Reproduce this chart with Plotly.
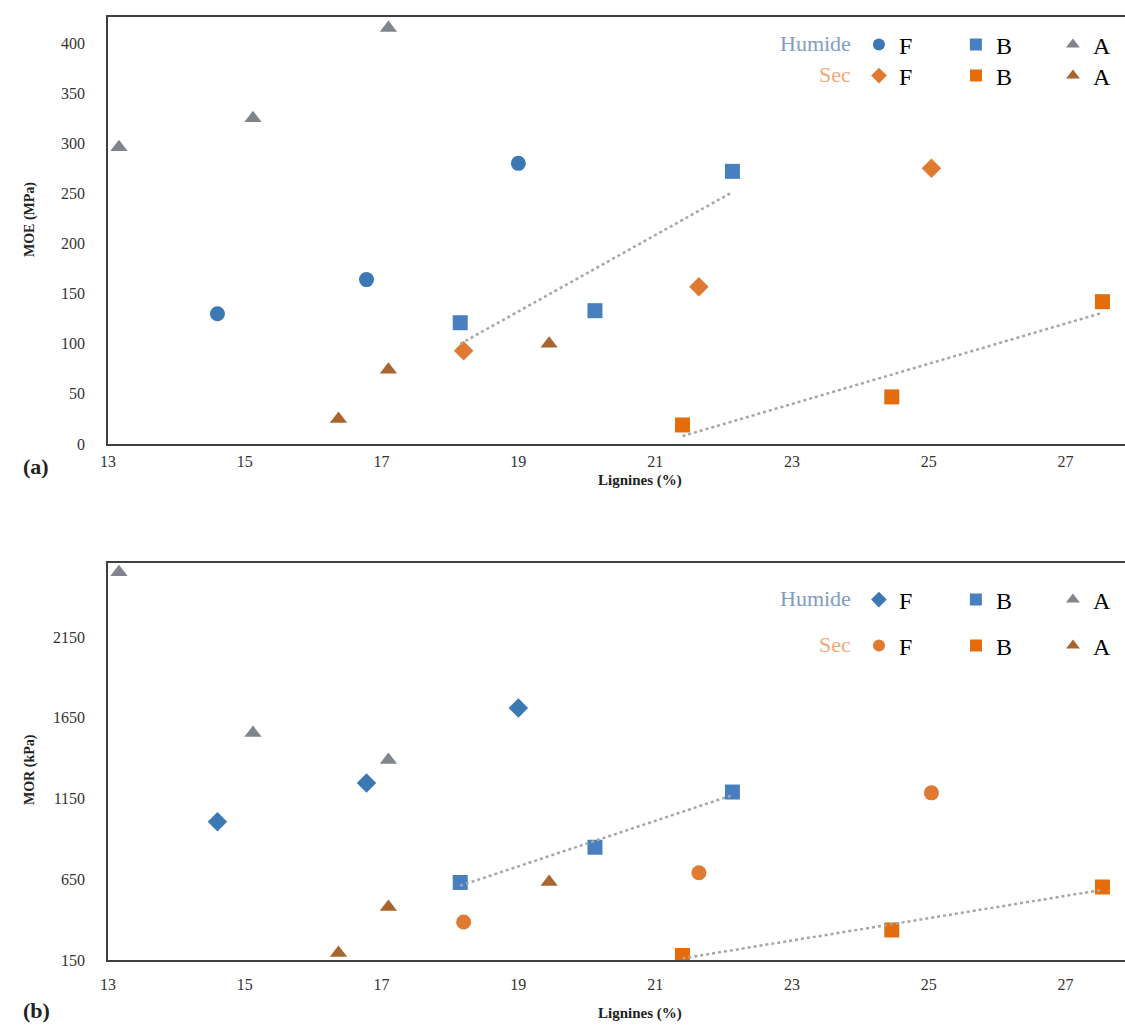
import numpy as np
import plotly.graph_objects as go

# ---- data ----
series = ["Humide F", "Humide B", "Humide A", "Sec F", "Sec B", "Sec A"]
labels = ["F", "B", "A", "F", "B", "A"]

hum_f_x = [14.60, 16.78, 19.00]
hum_b_x = [18.15, 20.12, 22.13]
hum_a_x = [13.16, 15.12, 17.10]
sec_f_x = [18.20, 21.64, 25.04]
sec_b_x = [21.40, 24.46, 27.54]
sec_a_x = [16.37, 17.10, 19.45]

hum_f_moe = [130, 164, 280]
hum_b_moe = [121, 133, 272]
hum_a_moe = [296, 325, 415]
sec_f_moe = [93, 157, 275]
sec_b_moe = [19, 47, 142]
sec_a_moe = [25, 74, 100]

hum_f_mor = [1006, 1246, 1710]
hum_b_mor = [630, 848, 1190]
hum_a_mor = [2550, 1555, 1388]
sec_f_mor = [385, 690, 1185]
sec_b_mor = [178, 336, 602]
sec_a_mor = [193, 478, 633]

x_ticks = [13, 15, 17, 19, 21, 23, 25, 27]
moe_ticks = [0, 50, 100, 150, 200, 250, 300, 350, 400]
mor_ticks = [150, 650, 1150, 1650, 2150]

xs = [hum_f_x, hum_b_x, hum_a_x, sec_f_x, sec_b_x, sec_a_x]
moe = [hum_f_moe, hum_b_moe, hum_a_moe, sec_f_moe, sec_b_moe, sec_a_moe]
mor = [hum_f_mor, hum_b_mor, hum_a_mor, sec_f_mor, sec_b_mor, sec_a_mor]

# ---- styles ----
colors = ["#3C78B4", "#4A7FBF", "#80848C", "#E07A30", "#E46C0A", "#A8652E"]
sym_top = ["circle", "square", "triangle-up", "diamond", "square", "triangle-up"]
sym_bot = ["diamond", "square", "triangle-up", "circle", "square", "triangle-up"]
SERIF = "Liberation Serif, Times New Roman, serif"
W, H = 1125, 1026

def py(px):
    return 1 - px / H

fig = go.Figure()

panels = [
    dict(ys=moe, sym=sym_top, xa="x", ya="y", legs=("legend", "legend2")),
    dict(ys=mor, sym=sym_bot, xa="x2", ya="y2", legs=("legend3", "legend4")),
]

for pi, p in enumerate(panels):
    for i, name in enumerate(series):
        leg = p["legs"][0] if i < 3 else p["legs"][1]
        fig.add_trace(go.Scatter(
            x=xs[i], y=p["ys"][i], mode="markers", name=labels[i],
            marker=dict(symbol=p["sym"][i], size=15, color=colors[i]),
            xaxis=p["xa"], yaxis=p["ya"], legend=leg, showlegend=True,
        ))
    # linear trend lines for the B series
    for i in (1, 4):
        xv = np.array(xs[i]); yv = np.array(p["ys"][i])
        k, b = np.polyfit(xv, yv, 1)
        xl = np.array([xv.min(), xv.max()])
        fig.add_trace(go.Scatter(
            x=xl, y=k * xl + b, mode="lines",
            line=dict(color="#A6A6A6", width=2.5, dash="dot"),
            xaxis=p["xa"], yaxis=p["ya"], showlegend=False, hoverinfo="skip",
        ))

axis_common = dict(
    showgrid=False, zeroline=False, showline=True, linecolor="#404040", linewidth=1.5,
    ticks="", tickfont=dict(family=SERIF, size=16, color="#333333"), automargin=False,
)

fig.update_layout(
    width=W, height=H, plot_bgcolor="white", paper_bgcolor="white",
    margin=dict(l=0, r=0, t=0, b=0, autoexpand=False),
    xaxis=dict(domain=[108 / W, 1], range=[13, 27.87], tickvals=x_ticks, anchor="y",
               mirror=True, ticklabelstandoff=2, **axis_common),
    yaxis=dict(domain=[py(444), py(17)], range=[0, 426], tickvals=moe_ticks, anchor="x",
               ticklabelstandoff=18, **axis_common),
    xaxis2=dict(domain=[108 / W, 1], range=[13, 27.87], tickvals=x_ticks, anchor="y2",
                mirror=True, ticklabelstandoff=9, **axis_common),
    yaxis2=dict(domain=[py(960), py(563)], range=[150, 2608], tickvals=mor_ticks, anchor="x2",
                ticklabelstandoff=18, **axis_common),
    showlegend=True,
)

def leg(title, color, ypx):
    return dict(
        orientation="h", x=1150 / W, xanchor="right", y=py(ypx), yanchor="middle",
        bgcolor="rgba(0,0,0,0)", itemsizing="constant", entrywidth=52,
        font=dict(family=SERIF, size=24, color="black"),
        title=dict(text=title, side="left", font=dict(family=SERIF, size=22, color=color)),
        traceorder="normal", itemclick=False, itemdoubleclick=False,
    )

fig.update_layout(
    legend=leg("Humide", "#7F9CC4", 45),
    legend2=leg("Sec", "#F0A878", 76),
    legend3=leg("Humide", "#7F9CC4", 600),
    legend4=leg("Sec", "#F0A878", 646),
)

ann = []
def text(x, y, s, size, angle=0):
    ann.append(dict(x=x / W, y=py(y), xref="paper", yref="paper", text=s, showarrow=False,
                    textangle=angle, font=dict(family=SERIF, size=size, color="#222222"),
                    xanchor="center", yanchor="middle"))

text(30, 220, "<b>MOE (MPa)</b>", 14, -90)
text(30, 770, "<b>MOR (kPa)</b>", 14, -90)
text(640, 480, "<b>Lignines (%)</b>", 15)
text(640, 1013, "<b>Lignines (%)</b>", 15)
text(36, 466, "<b>(a)</b>", 22)
text(36, 1010, "<b>(b)</b>", 22)
fig.update_layout(annotations=ann)

fig.write_html(
    "out.html",
    config={"displayModeBar": False},
    post_script="document.body.style.margin='0';document.body.style.overflow='hidden';",
)
